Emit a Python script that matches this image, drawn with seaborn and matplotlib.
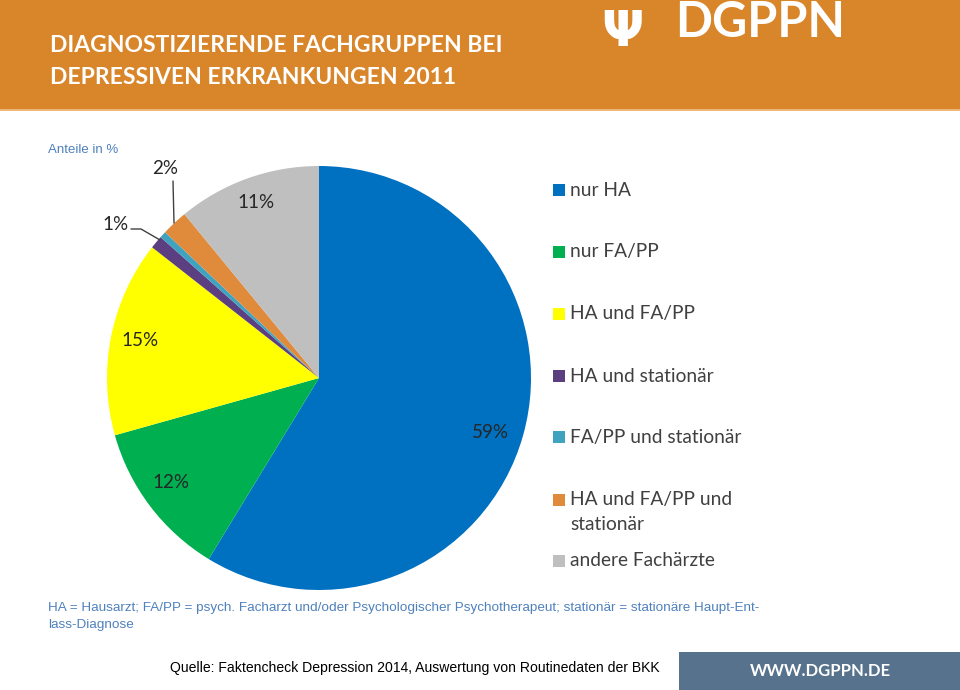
import matplotlib
matplotlib.use("Agg")
import matplotlib.pyplot as plt
from matplotlib import font_manager
from matplotlib.patches import Rectangle
import seaborn as sns

categories = ["nur HA", "nur FA/PP", "HA und FA/PP", "HA und stationär",
              "FA/PP und stationär", "HA und FA/PP und\nstationär", "andere Fachärzte"]
shares = [59, 12, 15, 1, 0.5, 2, 11]
share_labels = ["59%", "12%", "15%", "1%", "", "2%", "11%"]
colors = ["#0070C0", "#00B050", "#FFFF00", "#5B3F80", "#3FA3C0", "#E08A3C", "#BFBFBF"]

sns.set_theme(style="white")
avail = {f.name for f in font_manager.fontManager.ttflist}
narrow = "Liberation Sans Narrow" if "Liberation Sans Narrow" in avail else "Lato"
plt.rcParams["font.family"] = ["Lato", "DejaVu Sans"]

W, H = 960, 690
fig = plt.figure(figsize=(W / 100, H / 100), dpi=100)
fig.patch.set_facecolor("white")

def fx(x):
    return x / W

def fy(y):
    return 1 - y / H

# header band
fig.patches.append(Rectangle((0, fy(109)), 1, 109 / H, transform=fig.transFigure,
                             facecolor="#D9862B", edgecolor="none", zorder=0))
fig.patches.append(Rectangle((0, fy(111)), 1, 2 / H, transform=fig.transFigure,
                             facecolor="#EDB77A", edgecolor="none", zorder=0))
tsize = 16.5 if narrow == "Lato" else 19
fig.text(fx(50), fy(45), "DIAGNOSTIZIERENDE FACHGRUPPEN BEI", color="white",
         fontsize=tsize, fontweight="bold", family=[narrow, "DejaVu Sans"], va="center", ha="left")
fig.text(fx(50), fy(77), "DEPRESSIVEN ERKRANKUNGEN 2011", color="white",
         fontsize=tsize, fontweight="bold", family=[narrow, "DejaVu Sans"], va="center", ha="left")
# logo
fig.text(fx(622), fy(46), "Ψ", color="white", fontsize=36, fontweight="bold",
         family=["DejaVu Sans"], va="baseline", ha="center")
fig.text(fx(675), fy(37), "DGPPN", color="white", fontsize=35, fontweight="bold",
         family=["Lato", "DejaVu Sans"], va="baseline", ha="left")

# pie
cx, cy, r = 319, 378, 212
ax = fig.add_axes([fx(cx - r), fy(cy + r), 2 * r / W, 2 * r / H])
wedges, _ = ax.pie(shares, colors=colors, startangle=90, counterclock=False,
                   radius=1, wedgeprops=dict(linewidth=0))
ax.set_xlim(-1, 1)
ax.set_ylim(-1, 1)
ax.set_aspect("auto")
ax.axis("off")

label_pos = {"59%": (490, 433), "12%": (171, 483), "15%": (140, 341),
             "11%": (256, 203), "2%": (165, 168), "1%": (115, 225)}
for lab in share_labels:
    if lab:
        x, y = label_pos[lab]
        fig.text(fx(x), fy(y), lab, fontsize=13.5, color="#262626",
                 ha="center", va="center", family=["Lato", "DejaVu Sans"])
# leader lines
fig.lines.append(plt.Line2D([fx(173), fx(174)], [fy(181), fy(223)],
                            transform=fig.transFigure, color="#404040", lw=1))
fig.lines.append(plt.Line2D([fx(131), fx(141), fx(160)], [fy(229), fy(229), fy(240)],
                            transform=fig.transFigure, color="#404040", lw=1))

fig.text(fx(48), fy(150), "Anteile in %", color="#4F81BD", fontsize=9.5,
         ha="left", va="center", family=["Liberation Sans", "DejaVu Sans"])

# legend
leg_y = [190, 252, 314, 376, 437, 512, 561]
for cat, col, y in zip(categories, colors, leg_y):
    sq_y = y - 12 if "\n" in cat else y
    fig.patches.append(Rectangle((fx(553), fy(sq_y + 6)), 12 / W, 12 / H,
                                 transform=fig.transFigure, facecolor=col,
                                 edgecolor="none"))
    fig.text(fx(570), fy(y), cat, fontsize=13.8, color="#404040", ha="left",
             va="center", linespacing=1.5, family=["Lato", "DejaVu Sans"])

# footnote
fig.text(fx(48), fy(608), "HA = Hausarzt; FA/PP = psych. Facharzt und/oder Psychologischer "
         "Psychotherapeut; stationär = stationäre Haupt-Ent-", color="#4F81BD",
         fontsize=9.7, ha="left", va="center", family=["Liberation Sans", "DejaVu Sans"])
fig.text(fx(48), fy(625), "lass-Diagnose", color="#4F81BD", fontsize=9.7,
         ha="left", va="center", family=["Liberation Sans", "DejaVu Sans"])

# source
fig.text(fx(415), fy(668), "Quelle: Faktencheck Depression 2014, Auswertung von Routinedaten der BKK",
         color="black", fontsize=10.05, ha="center", va="center",
         family=["Liberation Sans", "DejaVu Sans"])
fig.patches.append(Rectangle((fx(679), 0), 1 - fx(679), 38 / H, transform=fig.transFigure,
                             facecolor="#56728C", edgecolor="none"))
fig.text(fx(820), fy(671), "WWW.DGPPN.DE", color="white", fontsize=12, fontweight="bold",
         ha="center", va="center", family=["Lato", "DejaVu Sans"])

fig.savefig("out.png", dpi=100)
